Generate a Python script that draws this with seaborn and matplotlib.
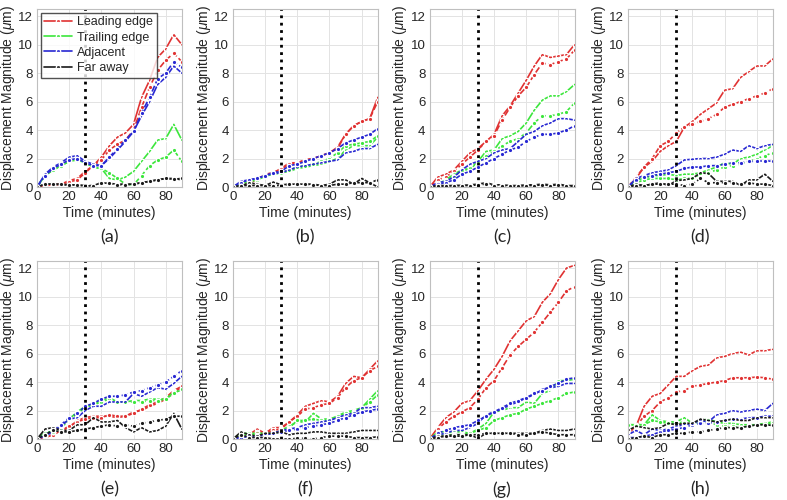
import matplotlib
matplotlib.use('Agg')
import matplotlib.pyplot as plt
import numpy as np
import pandas as pd
import seaborn as sns

# ------------------------- data ------------------------------------------------
time = [0, 5, 10, 15, 20, 25, 30, 35, 40, 45, 50, 55, 60, 65, 70, 75, 80, 85, 90]
groups = ['Leading edge', 'Trailing edge', 'Adjacent', 'Far away']
panel_labels = ['(a)', '(b)', '(c)', '(d)', '(e)', '(f)', '(g)', '(h)']

# panel (a)
a_lead = [0, 0.1, 0.15, 0.2, 0.45, 0.6, 1.1, 1.5, 2.1, 2.9, 3.5, 3.8, 4.4, 6.3, 7.5, 9.1, 9.7, 10.7, 10.0]
a_lead_d = [0, 0.1, 0.15, 0.2, 0.35, 0.5, 1.0, 1.5, 1.9, 2.6, 3.0, 3.3, 4.0, 5.6, 7.0, 8.2, 8.9, 9.4, 8.8]
a_trail = [0, 0.8, 1.2, 1.5, 1.8, 2.0, 1.7, 1.4, 1.3, 0.6, 0.5, 0.7, 1.1, 1.8, 2.5, 3.3, 3.4, 4.4, 3.3]
a_trail_d = [0, 0.8, 1.2, 1.5, 1.8, 1.9, 1.7, 1.4, 1.3, 1.0, 0.6, 0.2, 0.15, 0.8, 1.5, 1.9, 2.1, 2.6, 1.8]
a_adj = [0, 0.9, 1.4, 1.7, 2.1, 2.2, 1.8, 1.6, 1.5, 2.0, 2.6, 3.2, 3.9, 5.0, 6.0, 7.2, 7.7, 8.5, 8.0]
a_adj_d = [0, 0.8, 1.3, 1.6, 1.9, 2.0, 1.7, 1.5, 1.5, 2.1, 2.7, 3.3, 3.9, 5.2, 6.3, 7.6, 8.0, 8.8, 8.4]
a_far = [0, 0.2, 0.2, 0.15, 0.15, 0.15, 0.05, 0.1, 0.3, 0.25, 0.2, 0.2, 0.2, 0.3, 0.4, 0.5, 0.6, 0.6, 0.5]
a_far_d = [0, 0.2, 0.2, 0.2, 0.15, 0.15, 0.1, 0.1, 0.3, 0.25, 0.15, 0.15, 0.2, 0.3, 0.4, 0.5, 0.6, 0.55, 0.6]

# panel (b)
b_lead = [0, 0.1, 0.3, 0.5, 0.9, 1.0, 1.3, 1.7, 1.7, 1.9, 2.0, 2.2, 2.4, 2.8, 3.7, 4.3, 4.6, 4.8, 6.3]
b_lead_d = [0, 0.1, 0.3, 0.5, 0.85, 1.0, 1.25, 1.6, 1.7, 1.9, 2.0, 2.2, 2.4, 2.7, 3.7, 4.3, 4.6, 4.8, 6.0]
b_trail = [0, 0.2, 0.4, 0.5, 0.8, 0.9, 1.0, 1.1, 1.3, 1.4, 1.5, 1.6, 1.8, 2.0, 2.6, 2.9, 2.9, 2.9, 3.5]
b_trail_d = [0, 0.2, 0.4, 0.5, 0.75, 0.9, 1.0, 1.2, 1.4, 1.5, 1.6, 1.8, 2.0, 2.4, 2.9, 3.0, 3.1, 3.2, 3.6]
b_adj = [0, 0.4, 0.5, 0.6, 0.8, 0.95, 1.0, 1.2, 1.4, 1.5, 1.6, 1.7, 1.8, 1.9, 2.4, 2.5, 2.7, 2.7, 3.0]
b_adj_d = [0, 0.3, 0.5, 0.6, 0.8, 1.0, 1.1, 1.5, 1.6, 1.8, 2.0, 2.2, 2.4, 2.7, 3.1, 3.3, 3.5, 3.7, 4.1]
b_far = [0, 0.05, 0.3, 0.2, 0.1, 0.35, 0.15, 0.2, 0.2, 0.2, 0.2, 0.1, 0.2, 0.5, 0.5, 0.2, 0.6, 0.3, 0.0]
b_far_d = [0, 0.1, 0.1, 0.1, 0.1, 0.1, 0.1, 0.2, 0.2, 0.2, 0.15, 0.1, 0.1, 0.2, 0.2, 0.3, 0.3, 0.3, 0.5]

# panel (c)
c_lead = [0, 0.7, 0.9, 1.2, 1.8, 2.4, 2.7, 3.2, 3.7, 5.0, 5.7, 6.6, 7.5, 8.5, 9.3, 9.1, 9.2, 9.3, 10.0]
c_lead_d = [0, 0.5, 0.7, 1.1, 1.6, 2.1, 2.6, 3.2, 3.6, 4.7, 5.6, 6.4, 7.0, 7.9, 8.7, 8.6, 8.8, 9.0, 9.6]
c_trail = [0, 0.2, 0.5, 0.9, 1.2, 1.3, 1.8, 2.5, 2.6, 3.4, 3.6, 3.9, 4.5, 5.4, 6.1, 6.4, 6.4, 6.7, 7.2]
c_trail_d = [0, 0.2, 0.4, 0.8, 1.1, 1.3, 1.7, 2.2, 2.5, 2.9, 3.2, 3.4, 3.8, 4.5, 5.0, 5.0, 5.1, 5.3, 5.9]
c_adj = [0, 0.3, 0.4, 0.7, 1.2, 1.6, 1.8, 2.0, 2.4, 2.6, 2.7, 3.2, 3.7, 3.9, 4.3, 4.5, 4.8, 4.8, 4.7]
c_adj_d = [0, 0.2, 0.3, 0.5, 0.9, 1.1, 1.4, 1.7, 2.0, 2.3, 2.6, 2.8, 3.2, 3.5, 3.7, 3.7, 3.8, 4.0, 4.3]
c_far = [0, 0.1, 0.1, 0.1, 0.1, 0.15, 0.2, 0.3, 0.15, 0.15, 0.1, 0.1, 0.15, 0.15, 0.2, 0.15, 0.2, 0.1, 0.1]
c_far_d = [0, 0.05, 0.05, 0.1, 0.1, 0.1, 0.15, 0.2, 0.1, 0.1, 0.05, 0.05, 0.1, 0.1, 0.15, 0.1, 0.15, 0.05, 0.05]

# panel (d)
d_lead = [0, 0.6, 1.4, 1.8, 2.5, 2.9, 3.2, 4.2, 4.6, 5.1, 5.5, 5.9, 6.8, 6.9, 7.7, 8.1, 8.5, 8.5, 9.0]
d_lead_d = [0, 0.7, 1.4, 2.0, 2.9, 3.2, 3.8, 4.2, 4.4, 4.6, 4.8, 5.1, 5.6, 5.8, 6.0, 6.2, 6.4, 6.6, 6.9]
d_trail = [0, 0.5, 0.6, 0.8, 0.8, 0.9, 0.8, 0.9, 0.9, 1.0, 1.2, 1.4, 1.7, 1.6, 2.0, 2.1, 2.3, 2.6, 2.9]
d_trail_d = [0, 0.3, 0.5, 0.6, 0.6, 0.6, 0.5, 0.6, 0.6, 0.9, 1.0, 1.2, 1.4, 1.5, 1.6, 1.8, 2.0, 2.2, 2.4]
d_adj = [0, 0.6, 0.8, 1.0, 1.1, 1.2, 1.5, 1.9, 1.95, 2.0, 2.0, 2.1, 2.3, 2.6, 2.5, 2.9, 2.7, 2.9, 3.0]
d_adj_d = [0, 0.5, 0.7, 0.8, 0.9, 1.0, 1.1, 1.3, 1.4, 1.4, 1.5, 1.5, 1.6, 1.7, 1.7, 1.8, 1.8, 1.85, 1.8]
d_far = [0, 0.2, 0.1, 0.2, 0.3, 0.1, 0.45, 0.5, 0.6, 1.0, 0.95, 0.4, 0.4, 0.4, 0.1, 0.5, 0.5, 0.9, 0.4]
d_far_d = [0, 0.1, 0.1, 0.2, 0.2, 0.2, 0.2, 0.1, 0.2, 0.6, 0.3, 0.3, 0.3, 0.3, 0.2, 0.3, 0.2, 0.2, 0.1]

# panel (e)
e_lead = [0, 0.1, 0.3, 0.6, 0.8, 1.3, 1.5, 1.6, 1.6, 1.6, 1.5, 1.6, 1.9, 2.0, 2.3, 2.5, 2.8, 3.3, 3.6]
e_lead_d = [0, 0.1, 0.3, 0.6, 0.9, 1.2, 1.4, 1.5, 1.5, 1.7, 1.6, 1.6, 1.8, 2.1, 2.4, 2.6, 2.9, 3.4, 3.7]
e_trail = [0, 0.5, 0.5, 0.9, 1.4, 1.9, 2.3, 2.4, 2.7, 2.9, 2.6, 2.6, 2.7, 2.7, 2.8, 2.8, 2.8, 3.3, 3.4]
e_trail_d = [0, 0.4, 0.5, 0.8, 1.3, 1.8, 2.2, 2.4, 2.6, 2.8, 2.6, 2.6, 2.6, 2.6, 2.7, 2.7, 2.8, 3.2, 3.5]
e_adj = [0, 0.2, 0.5, 0.9, 1.4, 1.5, 2.0, 2.3, 2.3, 2.6, 2.6, 2.6, 3.2, 3.0, 3.3, 3.6, 3.5, 3.9, 4.4]
e_adj_d = [0, 0.3, 0.6, 1.0, 1.5, 1.8, 2.3, 2.5, 2.8, 3.0, 3.0, 3.1, 3.3, 3.4, 3.6, 3.8, 4.0, 4.4, 4.8]
e_far = [0, 0.7, 0.8, 0.6, 0.6, 1.0, 1.0, 1.5, 1.2, 1.2, 1.3, 0.8, 0.5, 0.8, 0.5, 0.6, 0.9, 1.8, 0.7]
e_far_d = [0, 0.3, 0.6, 0.5, 0.5, 0.6, 0.7, 0.8, 0.9, 1.0, 0.9, 1.0, 0.9, 1.1, 1.2, 1.3, 1.4, 1.6, 1.6]

# panel (f)
f_lead = [0, 0.3, 0.3, 0.7, 0.4, 0.8, 0.8, 1.2, 1.7, 2.3, 2.5, 2.7, 2.6, 3.0, 3.9, 4.4, 4.3, 4.9, 5.5]
f_lead_d = [0, 0.2, 0.3, 0.5, 0.4, 0.6, 0.7, 1.2, 1.6, 2.1, 2.2, 2.4, 2.5, 2.9, 3.6, 4.1, 4.3, 4.8, 5.1]
f_trail = [0, 0.4, 0.4, 0.4, 0.4, 0.4, 0.6, 0.9, 1.2, 1.2, 1.8, 1.4, 1.4, 1.6, 1.9, 2.0, 2.2, 2.8, 3.4]
f_trail_d = [0, 0.3, 0.3, 0.3, 0.3, 0.4, 0.5, 0.8, 1.3, 1.3, 1.4, 1.3, 1.3, 1.6, 1.8, 1.9, 2.2, 2.6, 3.1]
f_adj = [0, 0.1, 0.2, 0.2, 0.3, 0.4, 0.6, 0.7, 0.8, 1.0, 1.1, 1.2, 1.3, 1.5, 1.7, 1.8, 2.2, 2.2, 2.3]
f_adj_d = [0, 0.1, 0.2, 0.2, 0.3, 0.4, 0.5, 0.6, 0.7, 0.8, 0.9, 1.0, 1.1, 1.3, 1.5, 1.7, 1.9, 2.0, 2.1]
f_far = [0, 0.5, 0.3, 0.2, 0.4, 0.4, 0.5, 0.3, 0.4, 0.4, 0.5, 0.5, 0.4, 0.4, 0.4, 0.5, 0.6, 0.6, 0.6]
f_far_d = [0, 0.3, 0.1, 0.1, 0.1, 0.0, 0.0, 0.0, 0.05, 0.05, 0.0, 0.1, 0.2, 0.2, 0.2, 0.1, 0.1, 0.1, 0.15]

# panel (g)
g_lead = [0, 0.8, 1.5, 1.9, 2.5, 2.7, 3.4, 4.2, 4.9, 5.8, 6.9, 7.6, 8.3, 8.6, 9.6, 10.2, 11.2, 12.0, 12.2]
g_lead_d = [0, 0.7, 1.2, 1.6, 1.9, 2.2, 2.8, 3.6, 4.1, 5.0, 5.9, 6.5, 7.0, 7.5, 8.2, 8.9, 9.6, 10.4, 10.7]
g_trail = [0, 0.5, 0.5, 0.5, 0.5, 0.4, 0.7, 1.1, 1.9, 2.0, 2.2, 2.2, 2.6, 2.5, 3.2, 3.4, 4.1, 4.1, 4.2]
g_trail_d = [0, 0.3, 0.3, 0.3, 0.3, 0.4, 0.6, 0.8, 1.3, 1.5, 1.7, 1.8, 2.1, 2.3, 2.5, 2.7, 2.9, 3.2, 3.3]
g_adj = [0, 0.3, 0.4, 0.6, 0.6, 0.8, 1.1, 1.7, 1.9, 2.1, 2.4, 2.6, 2.9, 3.1, 3.5, 3.6, 3.7, 3.9, 3.9]
g_adj_d = [0, 0.4, 0.6, 0.8, 0.9, 1.0, 1.3, 1.6, 1.9, 2.2, 2.5, 2.7, 2.9, 3.2, 3.4, 3.7, 3.9, 4.2, 4.3]
g_far = [0, 0.2, 0.2, 0.3, 0.3, 0.3, 0.05, 0.4, 0.4, 0.4, 0.4, 0.4, 0.4, 0.4, 0.6, 0.7, 0.6, 0.6, 0.7]
g_far_d = [0, 0.1, 0.2, 0.2, 0.2, 0.3, 0.3, 0.4, 0.4, 0.4, 0.4, 0.3, 0.3, 0.4, 0.5, 0.4, 0.3, 0.3, 0.3]

# panel (h)
h_lead = [0.4, 0.9, 2.3, 3.0, 3.2, 3.8, 4.4, 4.4, 4.8, 5.1, 5.2, 5.7, 5.8, 6.0, 6.1, 5.9, 6.2, 6.2, 6.3]
h_lead_d = [0.4, 0.9, 1.6, 2.0, 2.6, 2.9, 3.3, 3.4, 3.7, 3.8, 3.9, 4.0, 4.1, 4.3, 4.3, 4.3, 4.35, 4.3, 4.2]
h_trail = [1.0, 1.0, 1.0, 1.7, 1.3, 1.2, 1.2, 1.5, 1.1, 1.3, 1.4, 1.2, 1.1, 1.1, 1.0, 1.0, 1.0, 1.1, 1.2]
h_trail_d = [1.0, 1.0, 1.0, 1.3, 1.2, 1.1, 1.1, 1.2, 1.0, 1.2, 1.2, 1.0, 0.9, 0.9, 0.8, 0.9, 1.0, 1.0, 1.1]
h_adj = [0.3, 0.6, 0.3, 0.7, 0.6, 0.7, 0.9, 1.0, 1.1, 1.3, 1.2, 1.7, 1.8, 2.0, 1.9, 2.0, 2.1, 2.0, 2.5]
h_adj_d = [0.1, 0.1, 0.2, 0.3, 0.5, 0.6, 0.7, 0.8, 1.0, 1.1, 1.1, 1.2, 1.3, 1.4, 1.4, 1.5, 1.5, 1.6, 1.6]
h_far = [0.6, 0.9, 0.8, 0.7, 0.8, 1.1, 1.0, 1.1, 1.1, 1.4, 1.3, 1.2, 1.3, 1.4, 1.3, 1.3, 1.5, 1.5, 1.5]
h_far_d = [0.0, 0.1, 0.2, 0.1, 0.3, 0.3, 0.4, 0.4, 0.5, 0.5, 0.6, 0.7, 0.8, 0.8, 0.8, 0.9, 1.0, 1.0, 0.95]

panels = [
    [(a_lead, a_lead_d), (a_trail, a_trail_d), (a_adj, a_adj_d), (a_far, a_far_d)],
    [(b_lead, b_lead_d), (b_trail, b_trail_d), (b_adj, b_adj_d), (b_far, b_far_d)],
    [(c_lead, c_lead_d), (c_trail, c_trail_d), (c_adj, c_adj_d), (c_far, c_far_d)],
    [(d_lead, d_lead_d), (d_trail, d_trail_d), (d_adj, d_adj_d), (d_far, d_far_d)],
    [(e_lead, e_lead_d), (e_trail, e_trail_d), (e_adj, e_adj_d), (e_far, e_far_d)],
    [(f_lead, f_lead_d), (f_trail, f_trail_d), (f_adj, f_adj_d), (f_far, f_far_d)],
    [(g_lead, g_lead_d), (g_trail, g_trail_d), (g_adj, g_adj_d), (g_far, g_far_d)],
    [(h_lead, h_lead_d), (h_trail, h_trail_d), (h_adj, h_adj_d), (h_far, h_far_d)],
]
# -------------------------------------------------------------------------------

colors = ['#E03232', '#3CE63C', '#2828D2', '#1A1A1A']

sns.set_theme(style='whitegrid')
plt.rcParams['font.family'] = ['Liberation Sans', 'DejaVu Sans']
plt.rcParams['mathtext.fontset'] = 'custom'
plt.rcParams['mathtext.it'] = 'Liberation Sans:italic'
plt.rcParams['mathtext.rm'] = 'Liberation Sans'

fig = plt.figure(figsize=(7.87, 5.00), dpi=100)

lefts = [0.047, 0.296, 0.546, 0.798]
bottoms = [0.626, 0.122]
w, h = 0.184, 0.356

for i, series in enumerate(panels):
    ax = fig.add_axes([lefts[i % 4], bottoms[i // 4], w, h])
    for k, (solid, dashed) in enumerate(series):
        sns.lineplot(x=time, y=solid, ax=ax, color=colors[k], lw=1.2,
                     marker='o', markersize=3.2, markeredgewidth=0.9,
                     markerfacecolor='none',
                     label=groups[k] if i == 0 else None)
        sns.lineplot(x=time, y=dashed, ax=ax, color=colors[k], lw=1.2,
                     linestyle='--', marker='o', markersize=3.2,
                     markeredgewidth=0.9)
    ax.axvline(30, color='black', ls=':', lw=2)
    ax.set_xlim(0, 90)
    ax.set_ylim(0, 12.5)
    ax.set_xticks([0, 20, 40, 60, 80])
    ax.set_yticks([0, 2, 4, 6, 8, 10, 12])
    ax.tick_params(labelsize=9.5, colors='#262626', length=0, pad=3)
    ax.grid(color='#E3E3E3', lw=0.7)
    for sp in ax.spines.values():
        sp.set_visible(True)
        sp.set_color('#BFBFBF')
        sp.set_linewidth(0.8)
    ax.set_xlabel('Time (minutes)', fontsize=10, color='#262626', labelpad=2)
    ax.set_ylabel(r'Displacement Magnitude ($\mu$m)', fontsize=10,
                  color='#262626', labelpad=1)
    ax.text(0.5, -0.285, panel_labels[i], transform=ax.transAxes,
            ha='center', va='center', fontsize=13, family='Lato')
    if i == 0:
        ax.legend(loc='upper left', fontsize=9, frameon=True, fancybox=False,
                  edgecolor='#262626', borderpad=0.3, labelspacing=0.25,
                  handlelength=2.2, handletextpad=0.4, borderaxespad=0.3)
    elif ax.get_legend() is not None:
        ax.get_legend().remove()

fig.savefig('out.png', dpi=100)
